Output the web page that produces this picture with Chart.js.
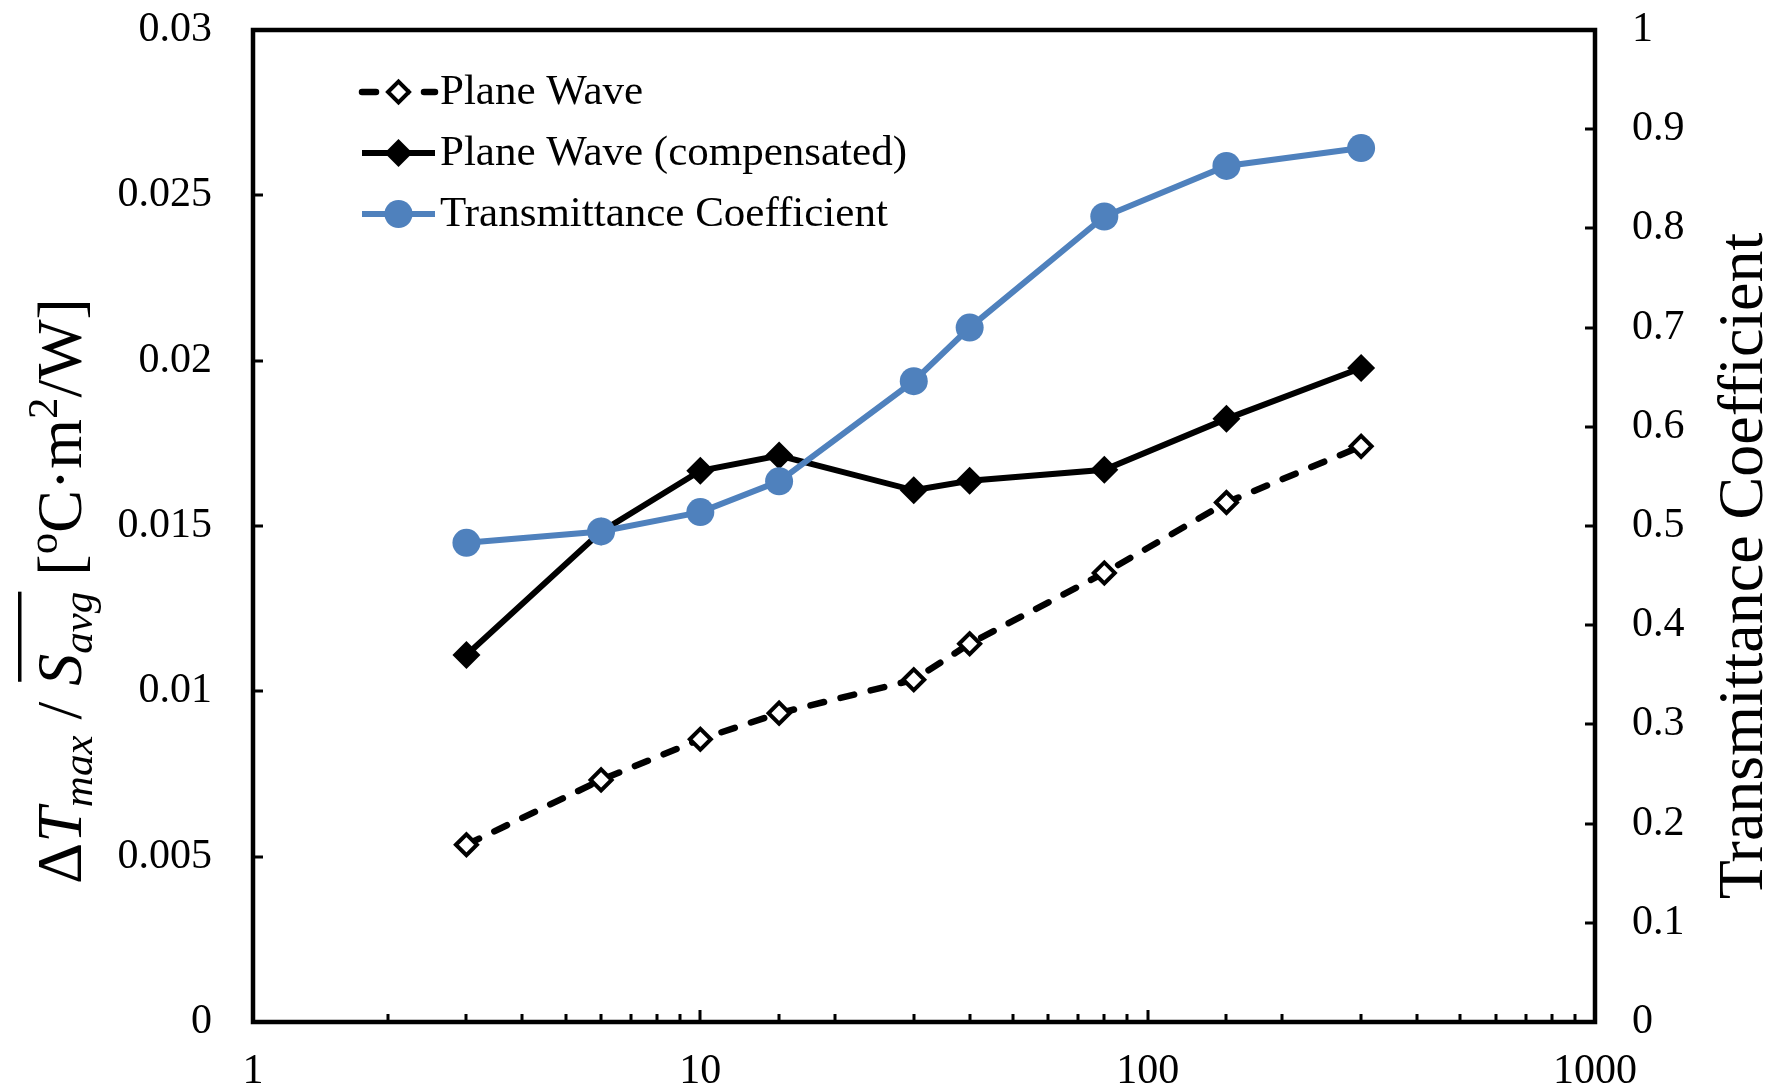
<!DOCTYPE html>
<html>
<head>
<meta charset="utf-8">
<script src="https://cdn.jsdelivr.net/npm/chart.js@4/dist/chart.umd.min.js"></script>
<style>
  html, body { margin: 0; padding: 0; background: #fff; }
  #wrap { width: 1771px; height: 1091px; }
</style>
</head>
<body>
<div id="wrap"><canvas id="c" width="1771" height="1091"></canvas></div>
<script>
// Sampling frequencies (log axis)
const xValues = [3, 6, 10, 15, 30, 40, 80, 150, 300];
// Normalised temperature rise, left axis
const planeWave = [0.00536, 0.00732, 0.00855, 0.00934, 0.01035, 0.01144, 0.01358, 0.01571, 0.01741];
const planeWaveCompensated = [0.0111, 0.01483, 0.01667, 0.01713, 0.01608, 0.01637, 0.0167, 0.01824, 0.01978];
// Transmittance coefficient, right axis
const transmittance = [0.483, 0.4945, 0.514, 0.545, 0.646, 0.700, 0.812, 0.863, 0.881];

const seriesLabels = ['Plane Wave', 'Plane Wave (compensated)', 'Transmittance Coefficient'];
const xTickLabels = [1, 10, 100, 1000];
const leftTickLabels = ['0', '0.005', '0.01', '0.015', '0.02', '0.025', '0.03'];
const rightTickLabels = ['0', '0.1', '0.2', '0.3', '0.4', '0.5', '0.6', '0.7', '0.8', '0.9', '1'];
const rightTitle = 'Transmittance Coefficient';

const SERIF = '"Liberation Serif", "Times New Roman", serif';
const BLUE = '#4F81BD';
const toPoints = ys => xValues.map((x, i) => ({ x, y: ys[i] }));

// Boxed plot frame with inward tick marks
const framePlugin = {
  id: 'frame',
  afterDatasetsDraw(chart) {
    const { ctx, chartArea: a, scales } = chart;
    ctx.save();
    ctx.strokeStyle = '#000';
    ctx.lineCap = 'butt';
    ctx.lineWidth = 3;
    ctx.beginPath();
    scales.x.ticks.forEach(t => {
      const px = Math.round(scales.x.getPixelForValue(t.value));
      if (px <= a.left + 2 || px >= a.right - 2) return;
      const major = Math.abs(Math.log10(t.value) - Math.round(Math.log10(t.value))) < 1e-9;
      const len = major ? 12 : 8;
      ctx.moveTo(px, a.bottom);
      ctx.lineTo(px, a.bottom - len);
    });
    scales.y.ticks.forEach(t => {
      const py = Math.round(scales.y.getPixelForValue(t.value));
      if (py <= a.top + 2 || py >= a.bottom - 2) return;
      ctx.moveTo(a.left, py);
      ctx.lineTo(a.left + 10, py);
    });
    scales.y1.ticks.forEach(t => {
      const py = Math.round(scales.y1.getPixelForValue(t.value));
      if (py <= a.top + 2 || py >= a.bottom - 2) return;
      ctx.moveTo(a.right, py);
      ctx.lineTo(a.right - 10, py);
    });
    ctx.stroke();
    ctx.lineWidth = 4.5;
    ctx.lineJoin = 'miter';
    ctx.strokeRect(a.left, a.top, a.right - a.left, a.bottom - a.top);
    ctx.restore();
  }
};

function drawMarker(ctx, style, r, fill, stroke, bw, x, y) {
  ctx.beginPath();
  if (style === 'circle') {
    ctx.arc(x, y, r, 0, Math.PI * 2);
  } else {
    ctx.moveTo(x - r, y); ctx.lineTo(x, y - r); ctx.lineTo(x + r, y); ctx.lineTo(x, y + r);
    ctx.closePath();
  }
  ctx.fillStyle = fill; ctx.fill();
  if (bw > 0) { ctx.lineWidth = bw; ctx.strokeStyle = stroke; ctx.lineJoin = 'miter'; ctx.stroke(); }
}

// Legend: line sample + marker + label, in the upper left of the plot
const legendPlugin = {
  id: 'legendRows',
  afterDraw(chart) {
    const { ctx } = chart;
    const rows = seriesLabels.map(l => chart.data.datasets.find(d => d.label === l));
    const x0 = 362, x1 = 435, tx = 440, y0 = 92, dy = 61;
    ctx.save();
    rows.forEach((d, i) => {
      const y = y0 + i * dy;
      ctx.beginPath();
      ctx.setLineDash(d.borderDash || []);
      ctx.lineCap = d.borderCapStyle || 'butt';
      ctx.lineWidth = d.borderWidth;
      ctx.strokeStyle = d.borderColor;
      ctx.moveTo(x0, y); ctx.lineTo(x1, y);
      ctx.stroke();
      ctx.setLineDash([]);
      drawMarker(ctx, d.pointStyle, d.pointRadius, d.pointBackgroundColor, d.pointBorderColor, d.pointBorderWidth, (x0 + x1) / 2, y);
      ctx.fillStyle = '#000';
      ctx.font = '43px ' + SERIF;
      ctx.textBaseline = 'middle';
      ctx.textAlign = 'left';
      ctx.fillText(d.label, tx, y + 1);
    });
    ctx.restore();
  }
};

// Axis titles (rotated, reading bottom-to-top)
const titlesPlugin = {
  id: 'axisTitles',
  afterDraw(chart) {
    const { ctx } = chart;
    const M = 64, S = 43;
    const parts = [
      { t: '\u0394', s: M, it: false, dy: 0 },
      { t: 'T', s: M, it: true, dy: 0 },
      { t: 'max', s: S, it: true, dy: 11 },
      { t: ' / ', s: M, it: false, dy: 0 },
      { t: 'S', s: M, it: true, dy: 0, over: true },
      { t: 'avg', s: S, it: true, dy: 11, over: true },
      { t: ' [', s: M, it: false, dy: 0 },
      { t: 'o', s: S, it: false, dy: -24 },
      { t: 'C\u00B7m', s: M, it: false, dy: 0 },
      { t: '2', s: S, it: false, dy: -24 },
      { t: '/W]', s: M, it: false, dy: 0 }
    ];
    const font = p => (p.it ? 'italic ' : '') + p.s + 'px ' + SERIF;
    ctx.save();
    let total = 0;
    parts.forEach(p => { ctx.font = font(p); p.w = ctx.measureText(p.t).width; total += p.w; });
    ctx.translate(81, 591);
    ctx.rotate(-Math.PI / 2);
    ctx.fillStyle = '#000';
    ctx.textBaseline = 'alphabetic';
    ctx.textAlign = 'left';
    let x = -total / 2, ox0 = null, ox1 = null;
    parts.forEach(p => {
      ctx.font = font(p);
      ctx.fillText(p.t, x, p.dy);
      if (p.over) { if (ox0 === null) ox0 = x + 4; ox1 = x + p.w; }
      x += p.w;
    });
    ctx.fillRect(ox0, -63, ox1 - ox0, 3.5);
    ctx.restore();

    ctx.save();
    ctx.translate(1762, 566);
    ctx.rotate(-Math.PI / 2);
    ctx.fillStyle = '#000';
    ctx.font = '64px ' + SERIF;
    ctx.textAlign = 'center';
    ctx.textBaseline = 'alphabetic';
    ctx.fillText(rightTitle, 0, 0);
    ctx.restore();
  }
};

const tickFont = { family: SERIF, size: 42 };
// Keep the plot box fixed: no extra room reserved for end labels
const noEndPadding = s => { s.paddingTop = 0; s.paddingBottom = 0; s.paddingLeft = 0; s.paddingRight = 0; };

new Chart(document.getElementById('c'), {
  type: 'line',
  data: {
    datasets: [
      {
        label: seriesLabels[2],
        data: toPoints(transmittance),
        yAxisID: 'y1',
        order: 0,
        borderColor: BLUE,
        borderWidth: 6,
        pointStyle: 'circle',
        pointRadius: 14,
        pointBackgroundColor: BLUE,
        pointBorderColor: BLUE,
        pointBorderWidth: 0
      },
      {
        label: seriesLabels[1],
        data: toPoints(planeWaveCompensated),
        yAxisID: 'y',
        order: 1,
        borderColor: '#000',
        borderWidth: 6,
        pointStyle: 'rectRot',
        pointRadius: 14,
        pointBackgroundColor: '#000',
        pointBorderColor: '#000',
        pointBorderWidth: 0
      },
      {
        label: seriesLabels[0],
        data: toPoints(planeWave),
        yAxisID: 'y',
        order: 2,
        borderColor: '#000',
        borderWidth: 6.5,
        borderDash: [14, 17],
        borderCapStyle: 'round',
        pointStyle: 'rectRot',
        pointRadius: 10.5,
        pointBackgroundColor: '#fff',
        pointBorderColor: '#000',
        pointBorderWidth: 4
      }
    ]
  },
  options: {
    responsive: false,
    animation: false,
    devicePixelRatio: 1,
    layout: { padding: { top: 30, left: 0, right: 0, bottom: 0 } },
    elements: { line: { tension: 0 } },
    plugins: { legend: { display: false }, tooltip: { enabled: false } },
    scales: {
      x: {
        type: 'logarithmic',
        position: 'bottom',
        min: 1,
        max: 1000,
        grid: { display: false },
        border: { display: false },
        ticks: {
          autoSkip: false,
          maxRotation: 0,
          font: tickFont,
          color: '#000',
          padding: 17,
          callback: v => (xTickLabels.includes(v) ? String(v) : '')
        },
        afterFit: s => { s.height = 69; noEndPadding(s); }
      },
      y: {
        position: 'left',
        min: 0,
        max: 0.03,
        grid: { display: false },
        border: { display: false },
        ticks: {
          stepSize: 0.005,
          font: tickFont,
          color: '#000',
          padding: 33,
          callback: (v, i) => leftTickLabels[i]
        },
        afterFit: s => { s.width = 253; noEndPadding(s); }
      },
      y1: {
        position: 'right',
        min: 0,
        max: 1,
        grid: { display: false },
        border: { display: false },
        ticks: {
          stepSize: 0.1,
          font: tickFont,
          color: '#000',
          padding: 29,
          callback: (v, i) => rightTickLabels[i]
        },
        afterFit: s => { s.width = 176; noEndPadding(s); }
      }
    }
  },
  plugins: [framePlugin, legendPlugin, titlesPlugin]
});
</script>
</body>
</html>
